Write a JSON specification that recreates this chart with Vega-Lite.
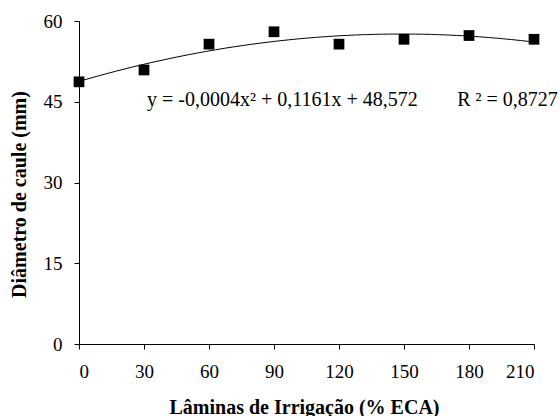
{
  "$schema": "https://vega.github.io/schema/vega-lite/v6.json",
  "width": 455,
  "height": 323,
  "autosize": {"type": "none"},
  "padding": {"left": 79, "top": 21, "right": 26, "bottom": 72},
  "background": "white",
  "config": {
    "view": {"stroke": null},
    "font": "Liberation Serif",
    "axis": {
      "grid": false,
      "domainColor": "black",
      "tickColor": "black",
      "tickSize": 5,
      "labelFont": "Liberation Serif",
      "labelFontSize": 19,
      "labelColor": "black",
      "titleFont": "Liberation Serif",
      "titleFontSize": 20,
      "titleFontWeight": "bold",
      "titleColor": "black"
    }
  },
  "data": {
    "values": [
      {"x": 0, "y": 48.7},
      {"x": 30, "y": 50.9},
      {"x": 60, "y": 55.7},
      {"x": 90, "y": 58.0},
      {"x": 120, "y": 55.7},
      {"x": 150, "y": 56.6},
      {"x": 180, "y": 57.3},
      {"x": 210, "y": 56.6}
    ]
  },
  "encoding": {
    "x": {
      "field": "x",
      "type": "quantitative",
      "scale": {"domain": [0, 210], "nice": false},
      "axis": {
        "values": [0, 30, 60, 90, 120, 150, 180, 210],
        "title": "Lâminas de Irrigação (% ECA)",
        "labelBaseline": "alphabetic",
        "labelPadding": 28,
        "titleBaseline": "alphabetic",
        "titleAlign": "center",
        "titleX": 225,
        "titleY": 69
      }
    },
    "y": {
      "field": "y",
      "type": "quantitative",
      "scale": {"domain": [0, 60], "nice": false},
      "axis": {
        "values": [0, 15, 30, 45, 60],
        "title": "Diâmetro de caule (mm)",
        "labelPadding": 12,
        "titleBaseline": "alphabetic",
        "titleAlign": "center",
        "titleAngle": -90,
        "titleX": -54,
        "titleY": 173
      }
    }
  },
  "layer": [
    {
      "transform": [{"regression": "y", "on": "x", "method": "poly", "order": 2, "extent": [0, 210]}],
      "mark": {"type": "line", "color": "black", "strokeWidth": 1, "interpolate": "monotone"}
    },
    {
      "mark": {"type": "point", "shape": "square", "filled": true, "color": "black", "size": 115, "opacity": 1}
    },
    {
      "data": {
        "values": [
          {"x": 93.9, "y": 44.2, "label": "y = -0,0004x² + 0,1161x + 48,572"},
          {"x": 197.8, "y": 44.2, "label": "R ² = 0,8727"}
        ]
      },
      "mark": {"type": "text", "font": "Liberation Serif", "fontSize": 20, "color": "black", "baseline": "alphabetic", "align": "center"},
      "encoding": {"text": {"field": "label"}}
    }
  ]
}
